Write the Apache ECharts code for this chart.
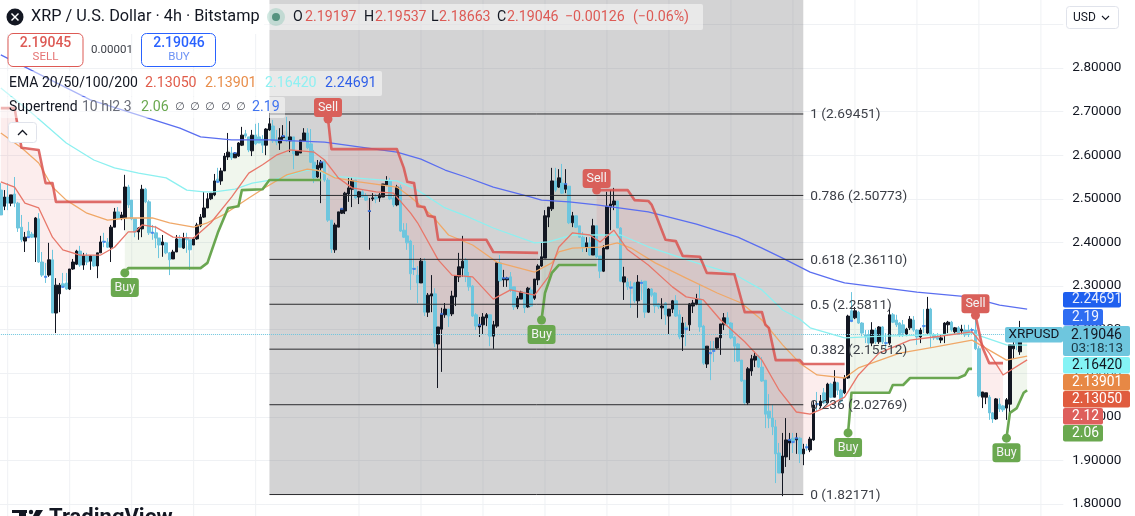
<!DOCTYPE html>
<html>
<head>
<meta charset="utf-8">
<title>XRP / U.S. Dollar 4h</title>
<script src="https://cdn.jsdelivr.net/npm/echarts@6/dist/echarts.min.js"></script>
<style>
  html, body { margin: 0; padding: 0; background: #fff; overflow: hidden; }
  #chart { width: 1135px; height: 516px; }
</style>
</head>
<body>
<div id="chart"></div>
<script>
// candles, oldest first: [open, close, low, high]
const candles = [
[2.520,2.463,2.463,2.536],[2.483,2.504,2.474,2.520],[2.504,2.490,2.474,2.536],[2.490,2.509,2.483,2.509],[2.511,2.490,2.481,2.550],[2.490,2.433,2.424,2.493],
[2.435,2.406,2.401,2.463],[2.403,2.412,2.378,2.424],[2.426,2.412,2.410,2.447],[2.419,2.412,2.410,2.424],[2.412,2.456,2.355,2.458],[2.454,2.355,2.353,2.467],
[2.355,2.325,2.321,2.378],[2.322,2.321,2.307,2.353],[2.325,2.360,2.321,2.399],[2.360,2.238,2.238,2.383],[2.238,2.302,2.192,2.318],[2.282,2.302,2.240,2.307],
[2.305,2.298,2.296,2.330],[2.307,2.293,2.291,2.330],[2.293,2.339,2.291,2.339],[2.339,2.355,2.337,2.362],[2.350,2.380,2.348,2.383],[2.380,2.348,2.344,2.392],
[2.348,2.369,2.337,2.376],[2.369,2.355,2.348,2.376],[2.357,2.369,2.337,2.371],[2.369,2.346,2.344,2.371],[2.346,2.376,2.318,2.376],[2.376,2.401,2.376,2.415],
[2.403,2.401,2.389,2.422],[2.401,2.389,2.387,2.410],[2.389,2.435,2.355,2.440],[2.435,2.470,2.435,2.479],[2.470,2.456,2.454,2.481],[2.456,2.463,2.451,2.470],
[2.456,2.527,2.428,2.555],[2.527,2.486,2.479,2.532],[2.497,2.454,2.451,2.497],[2.454,2.424,2.412,2.454],[2.424,2.433,2.406,2.435],[2.431,2.522,2.412,2.532],
[2.522,2.493,2.490,2.525],[2.493,2.422,2.417,2.497],[2.423,2.422,2.406,2.440],[2.422,2.410,2.387,2.438],[2.410,2.394,2.364,2.410],[2.394,2.401,2.367,2.417],
[2.399,2.376,2.373,2.401],[2.376,2.360,2.325,2.378],[2.362,2.378,2.362,2.383],[2.378,2.408,2.378,2.417],[2.408,2.389,2.389,2.417],[2.387,2.410,2.385,2.422],
[2.410,2.406,2.376,2.422],[2.406,2.383,2.337,2.406],[2.394,2.408,2.394,2.412],[2.408,2.440,2.406,2.445],[2.438,2.458,2.435,2.465],[2.458,2.479,2.456,2.516],
[2.479,2.500,2.479,2.513],[2.500,2.513,2.497,2.513],[2.509,2.541,2.506,2.557],[2.545,2.539,2.536,2.571],[2.541,2.564,2.532,2.571],[2.564,2.598,2.564,2.605],
[2.596,2.607,2.589,2.651],[2.605,2.594,2.589,2.619],[2.594,2.605,2.594,2.607],[2.598,2.628,2.596,2.630],[2.623,2.646,2.621,2.665],[2.649,2.644,2.640,2.658],
[2.642,2.612,2.607,2.642],[2.610,2.646,2.598,2.658],[2.646,2.626,2.623,2.672],[2.642,2.628,2.628,2.674],[2.637,2.623,2.605,2.646],[2.623,2.660,2.600,2.662],
[2.658,2.672,2.656,2.697],[2.667,2.633,2.628,2.681],[2.635,2.630,2.623,2.658],[2.628,2.640,2.612,2.662],[2.640,2.644,2.635,2.669],[2.642,2.633,2.630,2.688],
[2.633,2.642,2.607,2.678],[2.642,2.603,2.568,2.642],[2.600,2.610,2.600,2.610],[2.605,2.635,2.605,2.635],[2.633,2.651,2.633,2.662],[2.651,2.617,2.614,2.662],
[2.626,2.584,2.582,2.660],[2.584,2.548,2.536,2.612],[2.550,2.577,2.548,2.589],[2.571,2.584,2.490,2.589],[2.587,2.543,2.539,2.589],[2.543,2.451,2.447,2.548],
[2.451,2.385,2.376,2.451],[2.383,2.440,2.376,2.445],[2.435,2.470,2.435,2.470],[2.467,2.477,2.465,2.479],[2.472,2.513,2.465,2.516],[2.511,2.525,2.493,2.550],
[2.522,2.541,2.481,2.550],[2.543,2.502,2.500,2.543],[2.504,2.516,2.488,2.518],[2.516,2.504,2.502,2.520],[2.506,2.497,2.495,2.513],[2.471,2.472,2.383,2.502],
[2.500,2.502,2.495,2.513],[2.504,2.500,2.490,2.511],[2.502,2.509,2.493,2.513],[2.504,2.534,2.504,2.534],[2.532,2.541,2.529,2.552],[2.541,2.500,2.497,2.548],
[2.502,2.486,2.481,2.509],[2.486,2.527,2.483,2.532],[2.527,2.426,2.424,2.532],[2.428,2.412,2.410,2.444],[2.415,2.399,2.383,2.444],[2.403,2.328,2.291,2.406],
[2.341,2.339,2.325,2.394],[2.325,2.307,2.261,2.346],[2.307,2.357,2.307,2.364],[2.357,2.240,2.231,2.364],[2.240,2.279,2.229,2.284],[2.277,2.282,2.240,2.325],
[2.282,2.169,2.160,2.295],[2.167,2.206,2.066,2.206],[2.201,2.236,2.103,2.250],[2.234,2.247,2.227,2.261],[2.247,2.231,2.206,2.247],[2.236,2.277,2.231,2.289],
[2.275,2.323,2.254,2.325],[2.321,2.344,2.309,2.376],[2.341,2.357,2.321,2.415],[2.360,2.321,2.309,2.364],[2.321,2.298,2.289,2.332],[2.300,2.231,2.229,2.302],
[2.234,2.208,2.199,2.238],[2.206,2.211,2.183,2.229],[2.211,2.229,2.190,2.238],[2.227,2.234,2.208,2.238],[2.234,2.185,2.162,2.234],[2.185,2.211,2.156,2.220],
[2.208,2.353,2.204,2.355],[2.353,2.312,2.309,2.371],[2.314,2.318,2.298,2.337],[2.314,2.318,2.298,2.321],[2.321,2.291,2.286,2.332],[2.298,2.252,2.245,2.298],
[2.252,2.272,2.247,2.277],[2.270,2.286,2.270,2.289],[2.286,2.250,2.238,2.286],[2.252,2.295,2.250,2.298],[2.291,2.254,2.252,2.298],[2.272,2.316,2.268,2.316],
[2.314,2.346,2.302,2.350],[2.346,2.367,2.344,2.401],[2.364,2.461,2.364,2.474],[2.458,2.481,2.435,2.481],[2.477,2.541,2.472,2.571],[2.541,2.520,2.516,2.571],
[2.527,2.548,2.525,2.568],[2.536,2.513,2.511,2.580],[2.522,2.534,2.513,2.568],[2.529,2.445,2.442,2.529],[2.445,2.461,2.435,2.470],[2.461,2.435,2.433,2.461],
[2.438,2.412,2.410,2.438],[2.412,2.389,2.378,2.424],[2.389,2.399,2.378,2.412],[2.399,2.371,2.369,2.412],[2.371,2.438,2.371,2.454],[2.438,2.367,2.364,2.438],
[2.369,2.334,2.318,2.369],[2.334,2.387,2.332,2.394],[2.385,2.483,2.385,2.516],[2.481,2.488,2.428,2.520],[2.486,2.495,2.474,2.525],[2.495,2.433,2.433,2.495],
[2.433,2.311,2.309,2.435],[2.309,2.321,2.268,2.344],[2.309,2.298,2.291,2.318],[2.298,2.296,2.250,2.311],[2.307,2.266,2.261,2.309],[2.266,2.309,2.227,2.325],
[2.309,2.307,2.268,2.314],[2.311,2.240,2.227,2.311],[2.240,2.293,2.238,2.295],[2.293,2.279,2.275,2.295],[2.284,2.254,2.238,2.286],[2.259,2.252,2.247,2.261],
[2.250,2.254,2.224,2.272],[2.261,2.234,2.211,2.263],[2.231,2.247,2.190,2.247],[2.247,2.266,2.238,2.268],[2.266,2.231,2.229,2.279],[2.234,2.183,2.178,2.245],
[2.183,2.215,2.151,2.229],[2.206,2.201,2.162,2.217],[2.211,2.259,2.197,2.261],[2.254,2.261,2.238,2.268],[2.259,2.270,2.256,2.282],[2.270,2.206,2.195,2.305],
[2.208,2.123,2.119,2.211],[2.121,2.162,2.112,2.162],[2.147,2.146,2.084,2.174],[2.156,2.151,2.126,2.174],[2.158,2.181,2.156,2.181],[2.181,2.213,2.142,2.213],
[2.211,2.227,2.199,2.238],[2.227,2.213,2.211,2.240],[2.215,2.181,2.178,2.217],[2.183,2.162,2.126,2.185],[2.167,2.128,2.126,2.169],[2.130,2.082,2.080,2.130],
[2.084,2.032,2.027,2.084],[2.032,2.110,2.027,2.114],[2.105,2.133,2.094,2.142],[2.130,2.139,2.114,2.149],[2.139,2.114,2.112,2.142],[2.114,2.082,2.080,2.137],
[2.084,2.006,1.974,2.084],[2.013,1.997,1.974,2.052],[1.997,1.977,1.958,2.027],[1.977,1.915,1.848,1.993],[1.917,1.871,1.871,1.940],[1.871,1.910,1.818,1.963],
[1.908,1.947,1.885,1.997],[1.940,1.947,1.901,1.963],[1.951,1.942,1.917,1.963],[1.947,1.951,1.915,1.963],[1.951,1.915,1.894,1.954],[1.915,1.926,1.889,1.938],
[1.931,1.930,1.922,1.938],[1.924,1.949,1.919,1.954],[1.947,2.027,1.945,2.036],[2.030,2.029,2.011,2.057],[2.025,2.036,2.020,2.050],[2.055,2.032,2.029,2.066],
[2.032,2.075,2.029,2.078],[2.075,2.045,2.043,2.078],[2.045,2.080,2.045,2.107],[2.078,2.061,2.050,2.080],[2.061,2.036,2.032,2.064],[2.055,2.089,2.052,2.096],
[2.089,2.231,2.087,2.234],[2.243,2.220,2.217,2.286],[2.227,2.243,2.224,2.252],[2.240,2.215,2.213,2.243],[2.215,2.192,2.185,2.217],[2.188,2.183,2.169,2.199],
[2.188,2.169,2.165,2.199],[2.169,2.199,2.162,2.217],[2.199,2.172,2.167,2.204],[2.172,2.206,2.167,2.208],[2.206,2.172,2.167,2.208],[2.170,2.169,2.158,2.192],
[2.169,2.234,2.165,2.250],[2.234,2.217,2.215,2.238],[2.222,2.211,2.206,2.234],[2.215,2.188,2.183,2.217],[2.211,2.192,2.183,2.222],[2.188,2.201,2.185,2.204],
[2.204,2.224,2.199,2.231],[2.222,2.199,2.195,2.231],[2.199,2.183,2.165,2.201],[2.183,2.199,2.169,2.204],[2.209,2.208,2.192,2.247],[2.192,2.247,2.188,2.275],
[2.247,2.188,2.158,2.250],[2.188,2.181,2.176,2.192],[2.185,2.178,2.176,2.192],[2.176,2.181,2.169,2.188],[2.188,2.215,2.169,2.217],[2.211,2.217,2.192,2.220],
[2.217,2.199,2.195,2.220],[2.195,2.204,2.190,2.206],[2.204,2.192,2.188,2.208],[2.197,2.201,2.188,2.211],[2.199,2.188,2.183,2.211],[2.199,2.195,2.183,2.211],
[2.200,2.199,2.188,2.204],[2.199,2.156,2.153,2.222],[2.156,2.048,2.045,2.162],[2.045,2.057,2.020,2.057],[2.045,2.055,2.029,2.055],[2.045,2.009,1.993,2.050],
[2.009,1.995,1.986,2.011],[1.995,2.041,1.993,2.043],[2.029,2.018,2.011,2.043],[2.025,2.016,2.011,2.027],[2.020,2.039,1.993,2.043],[2.029,2.165,2.011,2.165],
[2.156,2.165,2.133,2.188],[2.176,2.165,2.153,2.188],[2.149,2.183,2.142,2.220],[2.19197,2.19046,2.18663,2.19537]
];
// bars TradingView marks with a blue dot (almost no body)
const dojiBars = [8,13,18,30,44,63,68,82,93,99,107,120,128,139,146,147,164,183,186,199,206,207,229,230,231,234,237,247,257,268,282];

// [bar, price]
const ema20 = [[0,2.539],[4,2.527],[7,2.490],[11,2.479],[15,2.412],[18,2.383],[23,2.371],[29,2.371],[33,2.389],[37,2.424],[39,2.424],[41,2.440],[45,2.435],[50,2.412],[56,2.410],[61,2.445],[67,2.504],[72,2.559],[76,2.578],[80,2.600],[84,2.612],[91,2.607],[94,2.589],[98,2.548],[102,2.525],[109,2.516],[114,2.513],[119,2.467],[121,2.445],[127,2.360],[131,2.325],[137,2.321],[143,2.270],[148,2.291],[155,2.279],[159,2.321],[162,2.389],[166,2.422],[171,2.417],[174,2.401],[178,2.428],[182,2.383],[188,2.348],[195,2.298],[199,2.275],[204,2.268],[209,2.222],[216,2.172],[221,2.130],[226,2.061],[231,2.011],[235,2.006],[239,2.020],[245,2.045],[249,2.096],[255,2.146],[264,2.176],[271,2.183],[282,2.195],[287,2.146],[291,2.096],[298,2.1305]];
const ema50 = [[0,2.651],[6,2.617],[11,2.582],[15,2.527],[19,2.497],[25,2.467],[31,2.451],[37,2.456],[44,2.456],[49,2.445],[56,2.435],[60,2.445],[65,2.465],[72,2.502],[77,2.527],[83,2.555],[89,2.568],[93,2.564],[97,2.548],[104,2.539],[115,2.527],[119,2.504],[125,2.463],[130,2.417],[137,2.394],[144,2.355],[155,2.332],[160,2.353],[162,2.378],[166,2.387],[174,2.389],[179,2.399],[183,2.387],[190,2.353],[199,2.318],[208,2.284],[215,2.261],[221,2.222],[227,2.165],[232,2.123],[237,2.096],[245,2.089],[249,2.112],[261,2.146],[271,2.160],[282,2.176],[287,2.153],[292,2.130],[298,2.139]];
const ema100 = [[0,2.754],[9,2.697],[19,2.628],[27,2.589],[33,2.571],[40,2.559],[48,2.548],[54,2.520],[59,2.516],[62,2.516],[68,2.522],[73,2.536],[80,2.545],[88,2.564],[91,2.568],[96,2.552],[111,2.543],[115,2.541],[121,2.520],[129,2.479],[135,2.461],[143,2.433],[155,2.399],[159,2.401],[166,2.417],[180,2.417],[188,2.390],[202,2.353],[213,2.327],[221,2.291],[227,2.245],[232,2.224],[235,2.204],[245,2.181],[256,2.185],[271,2.188],[282,2.192],[292,2.165],[298,2.1642]];
const ema200 = [[0,2.830],[26,2.727],[52,2.662],[58,2.642],[67,2.635],[78,2.635],[94,2.630],[115,2.607],[122,2.591],[129,2.566],[135,2.550],[143,2.527],[154,2.504],[157,2.497],[165,2.493],[173,2.486],[188,2.470],[202,2.442],[214,2.412],[221,2.387],[227,2.364],[235,2.332],[242,2.314],[245,2.307],[266,2.286],[281,2.275],[290,2.256],[298,2.24691]];

const sellTrends = [
  [[0,2.708],[4,2.708],[6,2.617],[11,2.612],[13,2.536],[15,2.536],[16,2.493],[35,2.493]],
  [[95,2.683],[96,2.614],[115,2.614],[117,2.571],[118,2.539],[120,2.536],[121,2.483],[123,2.481],[124,2.461],[126,2.458],[127,2.406],[141,2.406],[143,2.378],[156,2.376]],
  [[173,2.520],[182,2.520],[184,2.497],[188,2.495],[189,2.486],[190,2.467],[193,2.406],[196,2.403],[198,2.369],[203,2.367],[205,2.330],[213,2.327],[216,2.240],[221,2.240],[222,2.211],[223,2.204],[225,2.130],[232,2.130],[233,2.121],[245,2.121]],
  [[283,2.233],[285,2.160],[287,2.123],[291,2.123]]
];
const buyTrends = [
  [[36,2.330],[37,2.341],[58,2.341],[60,2.353],[63,2.422],[66,2.479],[69,2.483],[70,2.520],[76,2.522],[78,2.543],[93,2.543]],
  [[157,2.222],[158,2.284],[160,2.330],[162,2.348],[173,2.348]],
  [[246,1.963],[247,2.055],[258,2.055],[259,2.073],[262,2.073],[264,2.089],[278,2.089],[280,2.096],[281,2.110],[282,2.110]],
  [[292,1.951],[293,2.009],[295,2.020],[297,2.055],[298,2.061]]
];
const sellSignals = [[95,2.683],[173,2.520],[283,2.233]];
const buySignals = [[36,2.330],[157,2.222],[246,1.963],[292,1.951]];

const fibLevels = ['0','0.236','0.382','0.5','0.618','0.786','1'];
const fibPrices = [1.82171,2.02769,2.15512,2.25811,2.36110,2.50773,2.69451];
const fibBars = [78,233];
const gridBars = [2,20,38,56,74,104,122,140,158,176,194,212,230,248,266,284,302];

const lastOhlc = [2.19197,2.19537,2.18663,2.19046];
const lastChange = ['−0.00126','(−0.06%)'];
const spreadQuotes = ['2.19045','0.00001','2.19046'];
const emaLast = [2.13050,2.13901,2.16420,2.24691];
const superLast = ['2.06','2.19','2.12'];
const countdown = '03:18:13';

const barCount = 309;
const categories = Array.from({length: barCount}, (_, i) => String(i));

const FONT = 'Roboto, "Noto Sans", sans-serif';
const RED = '#dd5a55';
const BLUE = '#2962ff';
const GREEN = '#6aa84f';
const SKY = '#6ec6de';
const INK = '#131722';

const chart = echarts.init(document.getElementById('chart'));

function lineSeries(data, color, width, z) {
  return {
    type: 'line', data: data, symbol: 'none', silent: true, z: z,
    lineStyle: { color: color, width: width, join: 'round' }
  };
}

// shaded area between a supertrend run and the candles' hl2
function fillSeries(runs, color) {
  return {
    type: 'custom', z: 2, silent: true,
    data: runs.map(r => r[0]),
    renderItem: function (params, api) {
      const run = runs[params.dataIndex];
      const pts = run.map(p => api.coord(p));
      for (let i = run[run.length - 1][0]; i >= run[0][0]; i--) {
        const c = candles[i] || candles[candles.length - 1];
        pts.push(api.coord([i, (c[2] + c[3]) / 2]));
      }
      return { type: 'polygon', shape: { points: pts }, style: { fill: color } };
    }
  };
}

function signalSeries(data, word, color, above) {
  return {
    type: 'custom', z: 8, silent: true, data: data,
    renderItem: function (params, api) {
      const p = api.coord([api.value(0), api.value(1)]);
      const top = above ? p[1] - 21 : p[1] + 5;
      return {
        type: 'group', children: [
          { type: 'circle', shape: { cx: p[0], cy: p[1], r: 4.5 }, style: { fill: color } },
          { type: 'rect', shape: { x: p[0] - 14, y: top, width: 28, height: 19, r: 3 }, style: { fill: color } },
          { type: 'text', style: { text: word, x: p[0], y: top + 10, fill: '#f4f4f4', font: '12.5px ' + FONT, align: 'center', verticalAlign: 'middle' } }
        ]
      };
    }
  };
}

const fibSeries = {
  type: 'custom', z: 6, silent: true,
  data: fibPrices.map((p, i) => [fibBars[1], p, i]),
  renderItem: function (params, api) {
    const a = api.coord([fibBars[0], api.value(1)]);
    const b = api.coord([fibBars[1], api.value(1)]);
    const i = params.dataIndex;
    return {
      type: 'group', children: [
        { type: 'line', shape: { x1: a[0], y1: a[1], x2: b[0], y2: b[1] }, style: { stroke: '#2b2b2e', lineWidth: 1 } },
        { type: 'text', style: { text: fibLevels[i] + ' (' + fibPrices[i].toFixed(5) + ')', x: b[0] + 7, y: b[1] + 1, fill: '#3c3f47', font: '13.7px ' + FONT, verticalAlign: 'middle' } }
      ]
    };
  }
};

const fibBack = {
  type: 'custom', z: 1, silent: true, data: [fibBars],
  renderItem: function (params, api) {
    const a = api.coord([fibBars[0], 3]);
    const b = api.coord([fibBars[1], fibPrices[0]]);
    return { type: 'rect', shape: { x: a[0], y: a[1], width: b[0] - a[0], height: b[1] - a[1] }, style: { fill: 'rgba(120,120,123,0.33)' } };
  }
};

const gridSeries = {
  type: 'custom', z: 0, silent: true, data: gridBars.map(b => [b, 2]),
  renderItem: function (params, api) {
    const a = api.coord([api.value(0), 3]);
    const b = api.coord([api.value(0), 1.7]);
    return { type: 'line', shape: { x1: a[0], y1: a[1], x2: b[0], y2: b[1] }, style: { stroke: '#eff1f4', lineWidth: 1 } };
  }
};

function label(text, x, y, fill, font, align) {
  return { type: 'text', z: 101, silent: true, style: { text: text, x: x, y: y, fill: fill, font: font || ('14px ' + FONT), align: align || 'left', verticalAlign: 'middle' } };
}
function box(x, y, w, h, fill, stroke, r) {
  return { type: 'rect', z: 100, silent: true, shape: { x: x, y: y, width: w, height: h, r: r || 0 }, style: { fill: fill, stroke: stroke || null } };
}
function tag(text, y, h, w, fill, color) {
  return [box(1063, y, w, h, fill, null, 2), label(text, 1072, y + h / 2, color, '13.8px ' + FONT)];
}

const fs14 = '14.2px ' + FONT;
const headerBits = [
  box(262, 4, 441, 26, 'rgba(255,255,255,0.5)', null, 2),
  box(0, 0, 264, 34, '#fff'),
  { type: 'circle', z: 101, silent: true, shape: { cx: 15, cy: 17, r: 8.5 }, style: { fill: '#131722' } },
  { type: 'line', z: 102, silent: true, shape: { x1: 11.5, y1: 13.5, x2: 18.5, y2: 20.5 }, style: { stroke: '#fff', lineWidth: 1.5 } },
  { type: 'line', z: 102, silent: true, shape: { x1: 18.5, y1: 13.5, x2: 11.5, y2: 20.5 }, style: { stroke: '#fff', lineWidth: 1.5 } },
  label('XRP / U.S. Dollar · 4h · Bitstamp', 31, 17, INK, '16.3px ' + FONT),
  { type: 'circle', z: 101, silent: true, shape: { cx: 276, cy: 17, r: 9 }, style: { fill: 'rgba(120,190,170,0.35)' } },
  { type: 'circle', z: 102, silent: true, shape: { cx: 276, cy: 17, r: 4 }, style: { fill: '#55937f' } },
  label('O', 293, 17, INK, fs14), label(lastOhlc[0].toFixed(5), 305, 17, RED, fs14),
  label('H', 364, 17, INK, fs14), label(lastOhlc[1].toFixed(5), 375, 17, RED, fs14),
  label('L', 431, 17, INK, fs14), label(lastOhlc[2].toFixed(5), 439, 17, RED, fs14),
  label('C', 497, 17, INK, fs14), label(lastOhlc[3].toFixed(5), 507, 17, RED, fs14),
  label(lastChange[0], 565, 17, RED, fs14), label(lastChange[1], 633, 17, RED, fs14),

  box(8, 33.5, 75, 33, '#fff', RED, 5),
  label(spreadQuotes[0], 45.5, 43, RED, '500 14px ' + FONT, 'center'),
  label('SELL', 45.5, 57.5, '#e57373', '11.5px ' + FONT, 'center'),
  box(141.5, 33.5, 74, 33, '#fff', BLUE, 5),
  label(spreadQuotes[2], 179, 43, BLUE, '500 14px ' + FONT, 'center'),
  label('BUY', 179, 57.5, '#6d93f5', '11.5px ' + FONT, 'center'),
  label(spreadQuotes[1], 112, 50.5, '#3c3f47', '11.5px ' + FONT, 'center'),

  box(0, 71, 382, 25, 'rgba(255,255,255,0.5)', null, 2),
  label('EMA 20/50/100/200', 9, 83.5, INK, '14px ' + FONT),
  label(emaLast[0].toFixed(5), 145, 83.5, '#e05c4a', fs14),
  label(emaLast[1].toFixed(5), 205, 83.5, '#e88d4a', fs14),
  label(emaLast[2].toFixed(5), 265, 83.5, '#8ff0f2', fs14),
  label(emaLast[3].toFixed(5), 325, 83.5, '#2f5fe8', fs14),

  box(0, 97, 285, 21, 'rgba(255,255,255,0.5)', null, 2),
  label('Supertrend', 9, 107.5, INK, '14px ' + FONT),
  label('10 hl2 3', 82, 107.5, '#6a6d78', '14px ' + FONT),
  label(superLast[0], 141, 107.5, GREEN, fs14),
  label('∅', 175, 107.5, '#4a4d57', '11px "DejaVu Sans"'),
  label('∅', 190, 107.5, '#4a4d57', '11px "DejaVu Sans"'),
  label('∅', 205, 107.5, '#4a4d57', '11px "DejaVu Sans"'),
  label('∅', 221, 107.5, '#4a4d57', '11px "DejaVu Sans"'),
  label('∅', 236, 107.5, '#4a4d57', '11px "DejaVu Sans"'),
  label(superLast[1], 252, 107.5, '#3f73f0', fs14),

  box(8.5, 122.5, 28, 20, '#fff', '#e0e3eb', 3),
  { type: 'polyline', z: 101, silent: true, shape: { points: [[18, 135], [22.5, 130.5], [27, 135]] }, style: { stroke: INK, lineWidth: 1.3, fill: null } },

  box(1066.5, 6.5, 52, 22, '#fff', '#e0e3eb', 3),
  label('USD', 1073, 17.5, INK, '12px ' + FONT),
  { type: 'polyline', z: 101, silent: true, shape: { points: [[1102, 16], [1105.5, 19.5], [1109, 16]] }, style: { stroke: INK, lineWidth: 1.1, fill: null } }
];

const logoBits = [
  box(12, 510, 15, 3, '#131722'), box(19, 510, 7, 8, '#131722'),
  { type: 'circle', z: 101, silent: true, shape: { cx: 31, cy: 512, r: 2.2 }, style: { fill: '#131722' } },
  { type: 'polygon', z: 101, silent: true, shape: { points: [[36, 510], [43, 510], [38, 518], [32, 518]] }, style: { fill: '#131722' } },
  { type: 'text', z: 101, silent: true, style: { text: 'TradingView', x: 49, y: 507, fill: '#131722', font: '700 22px ' + FONT, verticalAlign: 'top' } }
];

const rightTags = [].concat(
  tag(emaLast[3].toFixed(5), 292, 15.5, 58, '#1e5fef', '#e9eefc'),
  tag(superLast[1], 309, 16.5, 40, '#2f6df2', '#f0f4ff'),
  [box(1063, 326, 67, 30, SKY, null, 2),
   label(lastOhlc[3].toFixed(5), 1071, 335, INK, '14px ' + FONT),
   label(countdown, 1071, 349, '#1d3a46', '13.5px ' + FONT),
   box(1005, 327, 58, 15.5, SKY, null, 2),
   label('XRPUSD', 1034, 335, INK, '13.5px ' + FONT, 'center')],
  tag(emaLast[2].toFixed(5), 357, 16.5, 67, '#84f3f5', INK),
  tag(emaLast[1].toFixed(5), 374, 16.5, 67, '#e78845', '#fff'),
  tag(emaLast[0].toFixed(5), 391, 16.5, 67, '#e05c3f', '#fff'),
  tag(superLast[2], 408, 16.5, 40, '#de5f5c', '#fff'),
  tag(superLast[0], 425, 16.5, 40, GREEN, '#fff')
);

chart.setOption({
  animation: false,
  tooltip: { show: false },
  grid: { left: -0.9, top: -19.2, width: 1064.2, height: 566.8, containLabel: false, outerBoundsMode: 'none' },
  xAxis: {
    type: 'category', data: categories,
    axisLine: { show: false }, axisTick: { show: false }, axisLabel: { show: false }, splitLine: { show: false }
  },
  yAxis: {
    type: 'value', position: 'right', min: 1.7, max: 3.0, interval: 0.1,
    axisLine: { show: false }, axisTick: { show: false },
    splitLine: { lineStyle: { color: '#eff1f4', width: 1 } },
    axisLabel: {
      margin: 9, color: INK, fontSize: 13.5, fontFamily: FONT,
      formatter: v => (v < 1.75 || v > 2.85) ? '' : v.toFixed(5)
    }
  },
  series: [
    gridSeries,
    fibBack,
    fillSeries(sellTrends, 'rgba(228,92,88,0.11)'),
    fillSeries(buyTrends, 'rgba(106,168,79,0.10)'),
    {
      type: 'candlestick', data: candles, z: 3, silent: true, barWidth: 3,
      itemStyle: { color: '#131722', color0: SKY, borderColor: '#131722', borderColor0: SKY, borderWidth: 1 },
      markLine: {
        silent: true, symbol: 'none', label: { show: false },
        lineStyle: { color: SKY, type: 'dotted', width: 1 },
        data: [{ yAxis: lastOhlc[3] }]
      }
    },
    {
      type: 'scatter', z: 4, silent: true, symbol: 'rect', symbolSize: [3, 2],
      itemStyle: { color: '#3f7bf0' },
      data: dojiBars.map(i => [i, candles[i][1]])
    },
    lineSeries(ema200, '#5a6ef0', 1.3, 5),
    lineSeries(ema100, '#8cf0f0', 1.3, 5),
    lineSeries(ema50, '#f0a868', 1.3, 5),
    lineSeries(ema20, '#e8776a', 1.3, 5),
    ...sellTrends.map(r => lineSeries(r, 'rgba(217,84,80,0.85)', 2.6, 5)),
    ...buyTrends.map(r => lineSeries(r, 'rgba(98,162,72,0.95)', 2.6, 5)),
    fibSeries,
    signalSeries(sellSignals, 'Sell', '#d9605a', true),
    signalSeries(buySignals, 'Buy', GREEN, false)
  ],
  graphic: { elements: [].concat(headerBits, logoBits, rightTags) }
});
</script>
</body>
</html>
